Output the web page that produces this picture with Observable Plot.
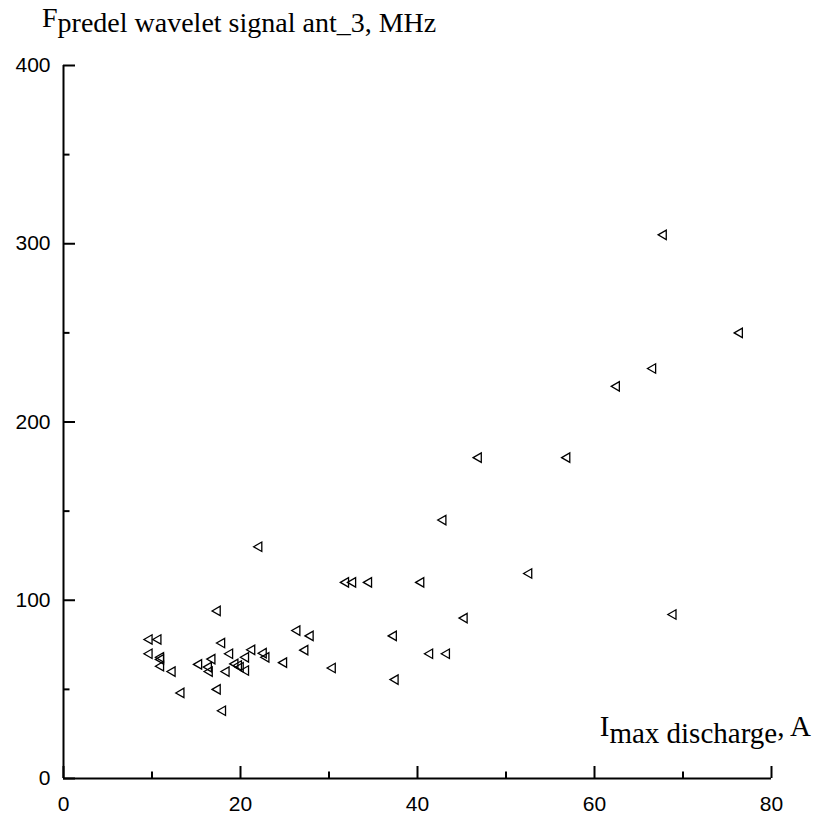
<!DOCTYPE html>
<html><head><meta charset="utf-8">
<script src="https://cdn.jsdelivr.net/npm/d3@7"></script>
<script src="https://cdn.jsdelivr.net/npm/@observablehq/plot@0.6"></script>
<style>body{margin:0;background:#fff}</style>
</head><body><div id="chart"></div>
<script>
const current = [76.4, 67.8, 66.6, 62.5, 56.9, 46.9, 42.9, 52.6, 22.1, 31.9, 32.7, 34.5, 40.4, 68.9, 45.3, 37.3, 41.4, 43.3, 37.5, 30.4, 27.9, 26.4, 27.3, 24.9, 17.4, 9.7, 10.7, 17.9, 9.7, 11.0, 11.0, 11.0, 12.3, 13.3, 15.3, 16.8, 16.4, 16.5, 17.4, 18.0, 18.8, 18.4, 19.4, 19.8, 20.0, 20.6, 20.6, 21.3, 22.6, 22.9];
const freq = [250, 305, 230, 220, 180, 180, 145, 115, 130, 110, 110, 110, 110, 92, 90, 80, 70, 70, 55.5, 62, 80, 83, 72, 65, 94, 78, 78, 76, 70, 68, 66.8, 63, 60, 48, 64, 67, 62.5, 60, 50, 38, 70, 60, 64.3, 63.4, 62.4, 68, 60.6, 72.2, 70.3, 68];
const xTicks = [0, 20, 40, 60, 80];
const xMinor = [10, 30, 50, 70];
const yTicks = [0, 100, 200, 300, 400];
const yMinor = [50, 150, 250, 350];
const yTitleMain = "F";
const yTitleSub = "predel wavelet signal ant_3, MHz";
const xTitleMain = "I";
const xTitleSub = "max discharge";
const xTitleEnd = ", A";

const data = current.map((x, i) => ({x, y: freq[i]}));
const sans = "Liberation Sans, Arial, sans-serif";
const serif = "Liberation Serif, Times New Roman, serif";

const plot = Plot.plot({
  width: 817, height: 820,
  marginLeft: 63, marginRight: 46, marginTop: 65, marginBottom: 42,
  x: {domain: [0, 80], label: null},
  y: {domain: [0, 400], label: null},
  style: {fontFamily: sans, color: "#000", background: "#fff", overflow: "visible"},
  marks: [
    Plot.axisX({ticks: xTicks, tickSize: 0, tickPadding: 18, fontSize: 21, fontFamily: sans, label: null}),
    Plot.axisX({ticks: xTicks, tickSize: -12, strokeWidth: 2, fill: "none", label: null}),
    Plot.axisX({ticks: xMinor, tickSize: -6.5, strokeWidth: 2, fill: "none", label: null}),
    Plot.axisY({ticks: yTicks, tickSize: 0, tickPadding: 13, fontSize: 21, fontFamily: sans, label: null}),
    Plot.axisY({ticks: yTicks, tickSize: -12, strokeWidth: 2, fill: "none", label: null}),
    Plot.axisY({ticks: yMinor, tickSize: -6.5, strokeWidth: 2, fill: "none", label: null}),
    Plot.ruleY([0], {strokeWidth: 2}),
    Plot.ruleX([0], {strokeWidth: 2}),
    Plot.dot(data, {x: "x", y: "y", symbol: "triangle", r: 3.5, rotate: -90, stroke: "#000", strokeWidth: 1.3, fill: "none"})
  ]
});

const svg = d3.select(plot);
const t1 = svg.append("text")
  .attr("x", 42).attr("y", 27).attr("text-anchor", "start")
  .attr("font-family", serif).attr("font-size", 28).attr("fill", "#000");
t1.append("tspan").text(yTitleMain);
t1.append("tspan").attr("dy", 5).text(yTitleSub);

const t2 = svg.append("text")
  .attr("x", 811).attr("y", 736).attr("text-anchor", "end")
  .attr("font-family", serif).attr("font-size", 29).attr("fill", "#000");
t2.append("tspan").text(xTitleMain);
t2.append("tspan").attr("dy", 7).text(xTitleSub);
t2.append("tspan").attr("dy", -7).text(xTitleEnd);

document.getElementById("chart").appendChild(plot);
</script>
</body></html>
